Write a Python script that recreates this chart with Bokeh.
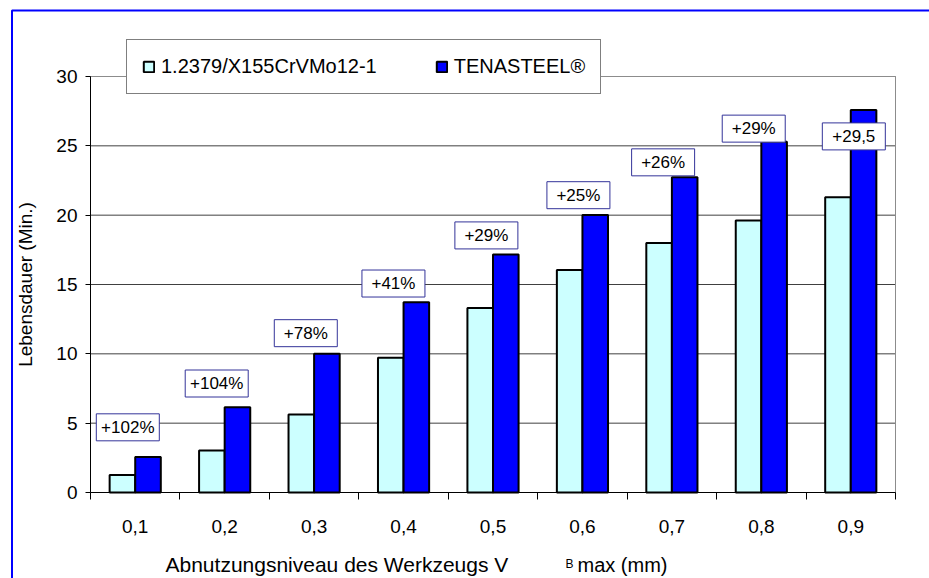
import numpy as np
from bokeh.plotting import figure
from bokeh.models import (Range1d, FixedTicker, Legend, LegendItem, Label,
                          ColumnDataSource)
from bokeh.core.properties import value
from bokeh.embed import file_html
from bokeh.resources import INLINE

# Wear level of the tool (VBmax, mm) and tool life in minutes
categories = ["0,1", "0,2", "0,3", "0,4", "0,5", "0,6", "0,7", "0,8", "0,9"]
steel_std = [1.27, 3.02, 5.62, 9.71, 13.31, 16.05, 18.0, 19.61, 21.29]
tenasteel = [2.56, 6.15, 10.0, 13.72, 17.16, 20.02, 22.73, 25.3, 27.59]
increase_labels = ["+102%", "+104%", "+78%", "+41%", "+29%", "+25%", "+26%", "+29%", "+29,5"]
y_ticks = [0, 5, 10, 15, 20, 25, 30]

# placement of the increase boxes relative to the TENASTEEL bar top
label_dx = [-0.083, -0.089, -0.093, -0.113, -0.074, -0.045, -0.098, -0.085, 0.034]
label_dy = [2.14, 1.71, 1.49, 1.35, 1.38, 1.42, 1.08, 0.94, -1.91]

FONT = "Liberation Sans"
W, H = 929, 578
n = len(categories)
y_max = 30
centers = np.arange(n) + 0.5
bar_w = 0.286

# the plot area occupies x 90..895 px and y 76..492 px of the canvas;
# the ranges are widened so that the whole canvas is the frame
px_per_x = 805 / n
px_per_y = 416 / y_max
x_lo, x_hi = -90 / px_per_x, n + (W - 895) / px_per_x
y_lo, y_hi = -(H - 492) / px_per_y, y_max + 76 / px_per_y

def sx(px):
    return (px - 90) / px_per_x

def sy(py):
    return (492 - py) / px_per_y

p = figure(width=W, height=H, frame_width=W, frame_height=H,
           x_range=Range1d(x_lo, x_hi), y_range=Range1d(y_lo, y_hi),
           output_backend="svg", toolbar_location=None)
p.min_border = 0
p.background_fill_color = "white"
p.border_fill_color = "white"
p.outline_line_color = None

# y axis drawn at x = 0
yax = p.yaxis[0]
yax.fixed_location = 0
yax.bounds = (0, y_max)
yax.ticker = FixedTicker(ticks=y_ticks)
yax.axis_line_color = "black"
yax.major_tick_line_color = "black"
yax.major_tick_out = 5
yax.major_tick_in = 0
yax.minor_tick_line_color = None
yax.major_label_standoff = 8
yax.major_label_text_font = FONT
yax.major_label_text_font_size = "19px"
yax.major_label_text_color = "black"
yax.axis_label = "Lebensdauer (Min.)"
yax.axis_label_text_font = FONT
yax.axis_label_text_font_size = "19px"
yax.axis_label_text_font_style = "normal"
yax.axis_label_text_color = "black"
yax.axis_label_standoff = 17

# x axis drawn at y = 0: labels at group centres, tick marks at group boundaries
xax = p.xaxis[0]
xax.fixed_location = 0
xax.bounds = (0, n)
xax.ticker = FixedTicker(ticks=list(centers), minor_ticks=list(range(n + 1)))
xax.major_label_overrides = {float(c): lab for c, lab in zip(centers, categories)}
xax.axis_line_color = "black"
xax.major_tick_line_color = None
xax.major_tick_out = 0
xax.major_tick_in = 0
xax.minor_tick_line_color = "black"
xax.minor_tick_out = 7
xax.minor_tick_in = 0
xax.major_label_standoff = 20
xax.major_label_text_font = FONT
xax.major_label_text_font_size = "19px"
xax.major_label_text_color = "black"

# horizontal grid lines limited to the plot area
p.xgrid.grid_line_color = None
p.ygrid.grid_line_color = None
p.segment(x0=[0] * len(y_ticks), x1=[n] * len(y_ticks), y0=y_ticks, y1=y_ticks,
          line_color="#404040", line_width=1)
# plot area border (top and right)
p.line(x=[0, n, n], y=[y_max, y_max, 0], line_color="#8c8c8c", line_width=1)

src = ColumnDataSource(dict(
    lx=centers + np.array(label_dx), ly=np.array(tenasteel) + np.array(label_dy),
    txt=increase_labels,
))

r_std = p.vbar(x=centers - bar_w / 2, top=steel_std, width=bar_w, bottom=0,
               fill_color="#ccffff", line_color="black", line_width=2)
r_tena = p.vbar(x=centers + bar_w / 2, top=tenasteel, width=bar_w, bottom=0,
                fill_color="#0000ff", line_color="black", line_width=2)

# increase boxes
p.rect(x="lx", y="ly", width=63, height=27, width_units="screen", height_units="screen",
       fill_color="white", line_color="#333399", line_width=1, source=src)
p.text(x="lx", y="ly", text="txt", text_align="center", text_baseline="middle",
       text_font=value(FONT), text_font_size="17px", text_color="black", source=src)

legend = Legend(items=[LegendItem(label="1.2379/X155CrVMo12-1", renderers=[r_std]),
                       LegendItem(label="TENASTEEL®", renderers=[r_tena])],
                orientation="horizontal", location=(126, H - 94),
                border_line_color="black", border_line_width=1,
                background_fill_color="white", background_fill_alpha=1.0,
                padding=15, spacing=58, label_standoff=6, margin=0,
                glyph_width=13, glyph_height=13,
                label_text_font=FONT, label_text_font_size="20px", label_text_color="black")
p.add_layout(legend, "center")

# x axis title with subscript B
p.add_layout(Label(x=sx(165), y=sy(564), text="Abnutzungsniveau des Werkzeugs V",
                   text_font=FONT, text_font_size="21px", text_color="black",
                   text_baseline="alphabetic"))
p.add_layout(Label(x=sx(565), y=sy(563), text="B",
                   text_font=FONT, text_font_size="12px", text_color="black",
                   text_baseline="alphabetic"))
p.add_layout(Label(x=sx(577), y=sy(564), text="max (mm)",
                   text_font=FONT, text_font_size="20px", text_color="black",
                   text_baseline="alphabetic"))

# chart area border (top and left edges only)
p.line(x=[sx(11.5), sx(11.5), x_hi + 5], y=[y_lo - 5, sy(10), sy(10)],
       line_color="#0000ff", line_width=2)

open("out.html", "w").write(file_html(p, INLINE))
